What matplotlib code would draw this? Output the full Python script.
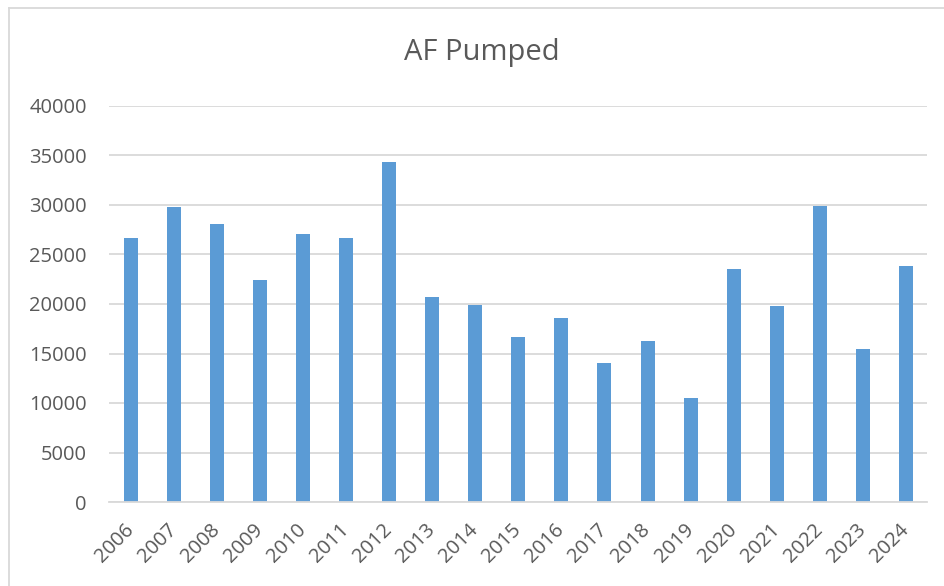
"""
AF Pumped per year, drawn as a simple Excel-style column chart.
"""

import matplotlib

matplotlib.use("Agg")
import matplotlib.pyplot as plt
from matplotlib.lines import Line2D

# Data
years = [
    "2006", "2007", "2008", "2009", "2010", "2011", "2012", "2013", "2014", "2015",
    "2016", "2017", "2018", "2019", "2020", "2021", "2022", "2023", "2024",
]
af_pumped = [
    26650, 29750, 28130, 22470, 27120, 26650, 34370, 20720, 19850, 16640,
    18560, 14050, 16310, 10480, 23520, 19810, 29890, 15470, 23790,
]
y_ticks = [0, 5000, 10000, 15000, 20000, 25000, 30000, 35000, 40000]
title = "AF Pumped"

bar_color = "#5B9BD5"
grid_color = "#D9D9D9"
text_color = "#595959"

plt.rcParams["font.family"] = ["Open Sans", "DejaVu Sans"]

W, H = 944, 586
fig = plt.figure(figsize=(W / 100, H / 100), dpi=100)

# plot area in pixels: x 109..927.5, y 106..502
ax = fig.add_axes([109.2 / W, 1 - 502 / H, (927.5 - 109.2) / W, (502 - 106) / H])

x = range(len(years))
ax.bar(x, af_pumped, width=0.325, color=bar_color, zorder=3)

ax.set_xlim(-0.5, len(years) - 0.5)
ax.set_ylim(0, 40000)
ax.set_yticks(y_ticks)
ax.set_yticklabels([str(v) for v in y_ticks])
ax.set_xticks(list(x))
ax.set_xticklabels(years, rotation=45, ha="right", va="center", rotation_mode="anchor")

ax.grid(axis="y", color=grid_color, linewidth=1.3, zorder=0)
ax.tick_params(axis="both", length=0, labelsize=14.5, colors=text_color)
ax.tick_params(axis="y", pad=16)
ax.tick_params(axis="x", pad=18)
for side in ["top", "right", "left"]:
    ax.spines[side].set_visible(False)
ax.spines["bottom"].set_color(grid_color)
ax.spines["bottom"].set_linewidth(1.3)
ax.spines["bottom"].set_zorder(4)

fig.text(481.7 / W, 1 - 60 / H, title, ha="center", va="baseline",
         fontsize=21, color=text_color)

# chart area border (left and top edges visible)
fig.add_artist(Line2D([8.5 / W, 8.5 / W], [0, 1 - 7.5 / H], transform=fig.transFigure,
                      color=grid_color, linewidth=1.3))
fig.add_artist(Line2D([8.5 / W, 1], [1 - 7.5 / H, 1 - 7.5 / H], transform=fig.transFigure,
                      color=grid_color, linewidth=1.3))

fig.savefig("out.png", dpi=100)
